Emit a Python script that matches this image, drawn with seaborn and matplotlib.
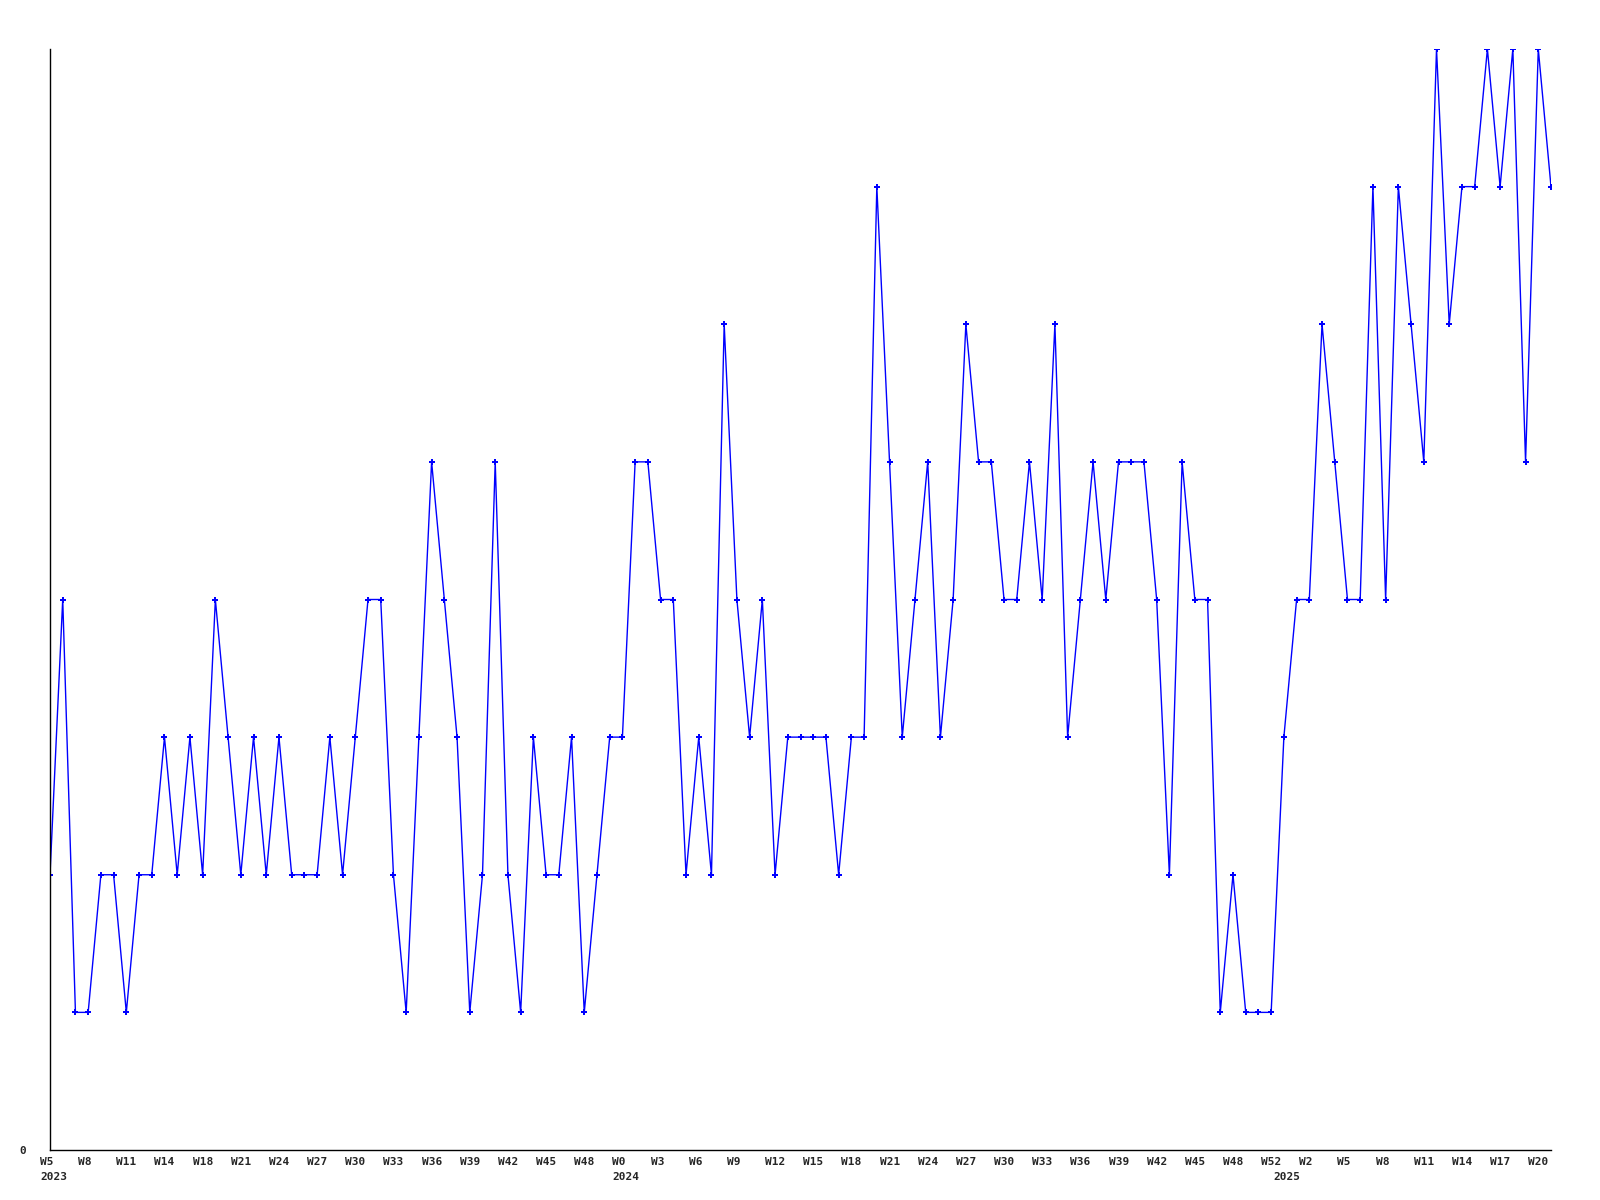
import matplotlib
matplotlib.use("Agg")
import matplotlib.pyplot as plt
import matplotlib.transforms as mtransforms
import seaborn as sns
import pandas as pd

# ---- data ----
values = [2, 4, 1, 1, 2, 2, 1, 2, 2, 3,
          2, 3, 2, 4, 3, 2, 3, 2, 3, 2,
          2, 2, 3, 2, 3, 4, 4, 2, 1, 3,
          5, 4, 3, 1, 2, 5, 2, 1, 3, 2,
          2, 3, 1, 2, 3, 3, 5, 5, 4, 4,
          2, 3, 2, 6, 4, 3, 4, 2, 3, 3,
          3, 3, 2, 3, 3, 7, 5, 3, 4, 5,
          3, 4, 6, 5, 5, 4, 4, 5, 4, 6,
          3, 4, 5, 4, 5, 5, 5, 4, 2, 5,
          4, 4, 1, 2, 1, 1, 1, 3, 4, 4,
          6, 5, 4, 4, 7, 4, 7, 6, 5, 8,
          6, 7, 7, 8, 7, 8, 5, 8, 7]
week_labels = ["W5", "W8", "W11", "W14", "W18", "W21", "W24", "W27", "W30", "W33",
               "W36", "W39", "W42", "W45", "W48", "W0", "W3", "W6", "W9", "W12",
               "W15", "W18", "W21", "W24", "W27", "W30", "W33", "W36", "W39", "W42",
               "W45", "W48", "W52", "W2", "W5", "W8", "W11", "W14", "W17", "W20"]
week_label_step = 3
years = ["2023", "2024", "2025"]
year_index = [0, 45, 97]

df = pd.DataFrame({"idx": list(range(len(values))), "val": values})

sns.set_style("white")
plt.rcParams["font.family"] = ["DejaVu Sans Mono"]
plt.rcParams["font.weight"] = "bold"

fig = plt.figure(figsize=(16, 12), dpi=100)
ax = fig.add_axes([50 / 1600, 1 - 1150 / 1200, (1551 - 50) / 1600, (1150 - 49) / 1200])

sns.lineplot(data=df, x="idx", y="val", ax=ax, color="#0000ff", linewidth=1.0,
             marker="P", markersize=4.5, markeredgewidth=0, markerfacecolor="#0000ff")

ax.set_xlim(0, len(values) - 1)
ax.set_ylim(0, 8)
ax.set_xlabel("")
ax.set_ylabel("")

for s in ["top", "right"]:
    ax.spines[s].set_visible(False)
for s in ["left", "bottom"]:
    ax.spines[s].set_color("black")
    ax.spines[s].set_linewidth(1.0)

tick_pos = [i * week_label_step for i in range(len(week_labels))]
ax.set_xticks(tick_pos)
ax.set_xticklabels([])
ax.tick_params(axis="x", length=0)

ax.set_yticks([0])
ax.set_yticklabels(["0"], fontsize=8, fontweight="bold")
ax.tick_params(axis="y", length=0, pad=17)

offset = mtransforms.ScaledTranslation(-10 / 100, 0, fig.dpi_scale_trans)
trans = mtransforms.blended_transform_factory(ax.transData, fig.transFigure) + offset
for lab, xi in zip(week_labels, tick_pos):
    ax.text(xi, 1 - 1157 / 1200, lab, transform=trans, ha="left", va="top",
            fontsize=8, fontweight="bold", family="DejaVu Sans Mono")
for yr, xi in zip(years, year_index):
    ax.text(xi, 1 - 1172 / 1200, yr, transform=trans, ha="left", va="top",
            fontsize=8, fontweight="bold", family="DejaVu Sans Mono")

fig.savefig("out.png", dpi=100, facecolor="white")
